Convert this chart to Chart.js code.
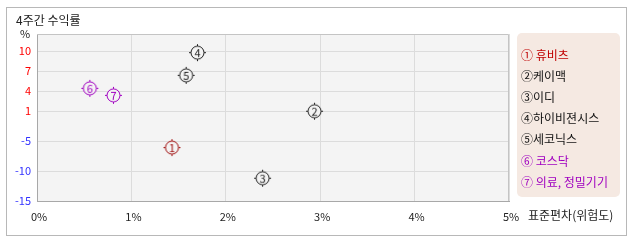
<!DOCTYPE html>
<html>
<head>
<meta charset="utf-8">
<script src="https://cdn.jsdelivr.net/npm/chart.js@4.4.1/dist/chart.umd.min.js"></script>
<style>
  html, body { margin: 0; padding: 0; background: #fff; }
  #wrap { width: 638px; height: 242px; position: relative; }
</style>
</head>
<body>
<div id="wrap"><canvas id="risk-chart"></canvas></div>
<script>
// data
var names = ["휴비츠", "케이맥", "이디", "하이비젼시스", "세코닉스", "코스닥", "의료, 정밀기기"];
var marks = ["①", "②", "③", "④", "⑤", "⑥", "⑦"];
var riskValues = [1.43, 2.94, 2.39, 1.70, 1.58, 0.56, 0.81];      // 표준편차 (%)
var returnValues = [-6.1, 0.95, -11.2, 9.75, 6.35, 4.4, 3.35];    // 4주간 수익률 (%)
var pointColors = ["#a01010", "#222222", "#222222", "#222222", "#222222", "#a000c0", "#a000c0"];
var labelColors = ["#c00000", "#111111", "#111111", "#111111", "#111111", "#a000c0", "#a000c0"];
var xTicks = [0, 1, 2, 3, 4, 5];
var yTicks = [-15, -10, -5, 1, 4, 7, 10];

var FONT = '"Noto Sans CJK KR", "DejaVu Sans", sans-serif';

// y axis of the original is not evenly spaced: each tick gets its own share of height
var yStops = [[-15, 0], [-10, 30], [-5, 60], [1, 90], [4, 110], [7, 130], [10, 150], [12.5, 167]];

class PiecewiseScale extends Chart.LinearScale {
  buildTicks() {
    return yTicks.map(function(v) { return { value: v }; });
  }
  getPixelForValue(value) {
    var top = yStops[yStops.length - 1][1];
    var d = 0;
    for (var i = 1; i < yStops.length; i++) {
      var a = yStops[i - 1], b = yStops[i];
      if (value <= b[0] || i == yStops.length - 1) {
        d = a[1] + (value - a[0]) / (b[0] - a[0]) * (b[1] - a[1]);
        break;
      }
    }
    return this.getPixelForDecimal(d / top);
  }
  getValueForPixel(pixel) {
    var top = yStops[yStops.length - 1][1];
    var p = this.getDecimalForPixel(pixel) * top;
    for (var i = 1; i < yStops.length; i++) {
      var a = yStops[i - 1], b = yStops[i];
      if (p <= b[1] || i == yStops.length - 1) {
        return a[0] + (p - a[1]) / (b[1] - a[1]) * (b[0] - a[0]);
      }
    }
  }
}
PiecewiseScale.id = 'piecewise';
PiecewiseScale.defaults = Chart.LinearScale.defaults;
Chart.register(PiecewiseScale);

// circled number marker with small ticks on four sides
function makeMarker(n, color) {
  var c = document.createElement('canvas');
  c.width = 21; c.height = 21;
  var g = c.getContext('2d');
  var cx = 10.5, cy = 10.5, r = 6.5;
  g.strokeStyle = color;
  g.fillStyle = '#f4f4f4';
  g.lineWidth = 1;
  g.beginPath();
  g.arc(cx, cy, r, 0, Math.PI * 2);
  g.fill();
  g.stroke();
  g.beginPath();
  g.moveTo(cx, cy - r); g.lineTo(cx, cy - r - 2);
  g.moveTo(cx, cy + r); g.lineTo(cx, cy + r + 2);
  g.moveTo(cx - r, cy); g.lineTo(cx - r - 2, cy);
  g.moveTo(cx + r, cy); g.lineTo(cx + r + 2, cy);
  g.stroke();
  g.fillStyle = color;
  g.font = '11px ' + FONT;
  g.textAlign = 'center';
  g.textBaseline = 'middle';
  g.fillText(String(n), cx, cy + 0.5);
  return c;
}

var points = riskValues.map(function(x, i) { return { x: x, y: returnValues[i] }; });
var markerImgs = pointColors.map(function(col, i) { return makeMarker(i + 1, col); });

// frame, plot background, titles and the legend panel
var decorations = {
  id: 'decorations',
  beforeDraw: function(chart) {
    var ctx = chart.ctx, a = chart.chartArea;
    ctx.save();
    ctx.fillStyle = '#f4f4f4';
    ctx.fillRect(a.left, a.top, a.right - a.left, a.bottom - a.top);
    ctx.restore();
  },
  afterDraw: function(chart) {
    var ctx = chart.ctx, a = chart.chartArea;
    ctx.save();
    // outer frame
    ctx.strokeStyle = '#b8b8b8';
    ctx.lineWidth = 1;
    ctx.strokeRect(6.5, 7.5, 620, 228);
    // top/right edge of plot
    ctx.strokeStyle = '#c4c4c4';
    ctx.beginPath();
    ctx.moveTo(a.left, a.top + 0.5); ctx.lineTo(a.right - 0.5, a.top + 0.5); ctx.lineTo(a.right - 0.5, a.bottom);
    ctx.stroke();

    ctx.fillStyle = '#222';
    ctx.font = '12px ' + FONT;
    ctx.textBaseline = 'middle';
    ctx.textAlign = 'left';
    ctx.fillText('4주간 수익률', 16, 20);
    ctx.font = '11px ' + FONT;
    ctx.fillText('%', 20, 34);
    ctx.font = '12px ' + FONT;
    ctx.fillText('표준편차(위험도)', 528, 215);

    // legend panel
    ctx.fillStyle = '#f5e9e2';
    ctx.beginPath();
    ctx.roundRect(517, 33, 103, 164, 5);
    ctx.fill();
    ctx.font = '12px ' + FONT;
    for (var i = 0; i < names.length; i++) {
      var gap = (labelColors[i] == '#111111') ? '' : ' ';
      ctx.fillStyle = labelColors[i];
      ctx.fillText(marks[i] + gap + names[i], 521, 55 + i * 21.2);
    }
    ctx.restore();
  }
};

new Chart(document.getElementById('risk-chart'), {
  type: 'scatter',
  data: {
    datasets: [{
      data: points,
      pointStyle: markerImgs,
      pointRadius: 8,
      pointHoverRadius: 8
    }]
  },
  options: {
    responsive: true,
    maintainAspectRatio: false,
    animation: false,
    events: [],
    layout: { padding: { left: 0, top: 34, right: 129, bottom: 0 } },
    plugins: {
      legend: { display: false },
      tooltip: { enabled: false }
    },
    scales: {
      x: {
        type: 'linear',
        min: 0,
        max: 5,
        afterBuildTicks: function(scale) {
          scale.ticks = xTicks.map(function(v) { return { value: v }; });
        },
        afterFit: function(scale) { scale.height = 41; },
        grid: { color: '#dcdcdc', drawTicks: false },
        border: { color: '#a8a8a8' },
        ticks: {
          padding: 9,
          labelOffset: 2,
          color: '#222',
          font: { family: FONT, size: 11 },
          maxRotation: 0,
          callback: function(v) { return v + '%'; }
        }
      },
      y: {
        type: 'piecewise',
        min: -15,
        max: 12.5,
        afterFit: function(scale) { scale.width = 37; },
        grid: { color: '#dcdcdc', drawTicks: false },
        border: { color: '#a8a8a8' },
        ticks: {
          padding: 6,
          font: { family: FONT, size: 11 },
          color: function(c) { return c.tick && c.tick.value > 0 ? '#ff0000' : '#3333ff'; }
        }
      }
    }
  },
  plugins: [decorations]
});
</script>
</body>
</html>
